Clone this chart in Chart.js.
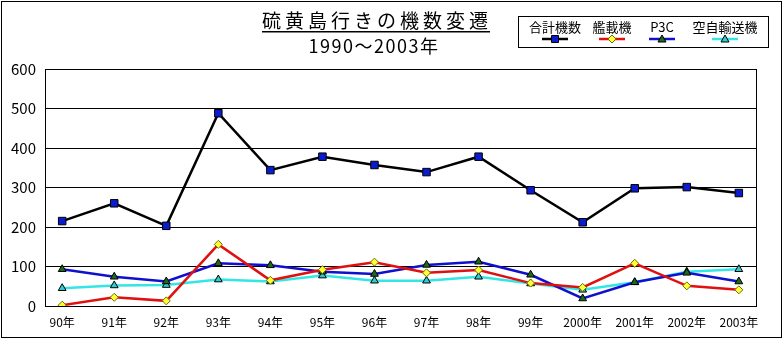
<!DOCTYPE html>
<html>
<head>
<meta charset="utf-8">
<script src="https://cdn.jsdelivr.net/npm/chart.js@4/dist/chart.umd.min.js"></script>
<style>
  html, body { margin: 0; padding: 0; background: #fff; }
  #wrap { width: 784px; height: 340px; }
</style>
</head>
<body>
<div id="wrap"><canvas id="c" width="784" height="340"></canvas></div>
<script>
// 年ごとのデータ
const years = ['90年', '91年', '92年', '93年', '94年', '95年', '96年', '97年', '98年', '99年', '2000年', '2001年', '2002年', '2003年'];
const totalCount = [215, 260, 203, 488, 344, 378, 357, 339, 378, 293, 212, 298, 301, 286];
const carrierCount = [2, 22, 13, 156, 65, 92, 111, 84, 91, 58, 47, 108, 51, 41];
const p3cCount = [93, 74, 62, 108, 103, 87, 81, 104, 112, 79, 19, 60, 84, 62];
const asdfCount = [45, 52, 53, 67, 62, 77, 64, 64, 74, 57, 41, 60, 87, 93];
const yTicks = [0, 100, 200, 300, 400, 500, 600];

const FONT = '"Noto Sans CJK JP", "Noto Sans", sans-serif';

function pts(arr) {
  return arr.map((v, i) => ({ x: i, y: v }));
}

// マーカー描画（凡例用）
function marker(ctx, style, x, y, fill, stroke) {
  ctx.save();
  ctx.fillStyle = fill;
  ctx.strokeStyle = stroke;
  ctx.lineWidth = 1;
  ctx.beginPath();
  if (style === 'rect') {
    ctx.rect(x - 3.5, y - 3.5, 7, 7);
  } else if (style === 'rectRot') {
    ctx.moveTo(x, y - 4); ctx.lineTo(x + 4, y); ctx.lineTo(x, y + 4); ctx.lineTo(x - 4, y); ctx.closePath();
  } else {
    ctx.moveTo(x, y - 4); ctx.lineTo(x + 4, y + 3); ctx.lineTo(x - 4, y + 3); ctx.closePath();
  }
  ctx.fill();
  ctx.stroke();
  ctx.restore();
}

const frame = {
  id: 'frame',
  beforeDraw(chart) {
    const ctx = chart.ctx;
    ctx.save();
    ctx.fillStyle = '#fff';
    ctx.fillRect(0, 0, chart.width, chart.height);
    ctx.strokeStyle = '#000';
    ctx.lineWidth = 1;
    ctx.strokeRect(1.5, 1.5, 780, 336);
    ctx.restore();
  },
  beforeDatasetsDraw(chart) {
    // プロットエリアの枠
    const a = chart.chartArea;
    const ctx = chart.ctx;
    ctx.save();
    ctx.strokeStyle = '#000';
    ctx.lineWidth = 1;
    ctx.strokeRect(Math.round(a.left) + 0.5, Math.round(a.top) + 0.5, Math.round(a.right - a.left), Math.round(a.bottom - a.top));
    ctx.restore();
  },
  afterDraw(chart) {
    const ctx = chart.ctx;
    ctx.save();
    // タイトル
    ctx.fillStyle = '#000';
    ctx.textAlign = 'center';
    ctx.textBaseline = 'alphabetic';
    ctx.font = '19px ' + FONT;
    ctx.letterSpacing = '4px';
    const title = '硫黄島行きの機数変遷';
    const tw = ctx.measureText(title).width;
    ctx.fillText(title, 377, 28);
    ctx.fillRect(377 - tw / 2, 31, tw - 2, 1.5);
    ctx.letterSpacing = '1.5px';
    ctx.font = '18px ' + FONT;
    ctx.fillText('1990～2003年', 374, 53);
    ctx.letterSpacing = '0px';

    // 凡例
    ctx.strokeStyle = '#000';
    ctx.lineWidth = 1;
    ctx.strokeRect(518.5, 16.5, 250, 31);
    const centers = [555, 612, 662, 725];
    ctx.font = '13px ' + FONT;
    ctx.textBaseline = 'middle';
    chart.data.datasets.forEach((ds, i) => {
      const cx = centers[i];
      ctx.fillStyle = '#000';
      ctx.fillText(ds.label, cx, 27);
      ctx.strokeStyle = ds.borderColor;
      ctx.lineWidth = 2.5;
      ctx.beginPath();
      ctx.moveTo(cx - 13, 39);
      ctx.lineTo(cx + 13, 39);
      ctx.stroke();
      marker(ctx, ds.pointStyle, cx, 39, ds.pointBackgroundColor, ds.pointBorderColor);
    });
    ctx.restore();
  }
};

const lineDefaults = {
  borderWidth: 2.5,
  tension: 0,
  pointBorderColor: '#000',
  pointBorderWidth: 1,
  pointHoverRadius: 5
};

new Chart(document.getElementById('c'), {
  type: 'line',
  data: {
    datasets: [{
      ...lineDefaults,
      label: '合計機数',
      data: pts(totalCount),
      borderColor: '#000000',
      pointStyle: 'rect',
      pointRadius: 5.3,
      pointBackgroundColor: '#0a1ccc'
    }, {
      ...lineDefaults,
      label: '艦載機',
      data: pts(carrierCount),
      borderColor: '#e01010',
      pointStyle: 'rectRot',
      pointRadius: 4,
      pointBorderColor: '#6b6b00',
      pointBackgroundColor: '#ffff33'
    }, {
      ...lineDefaults,
      label: 'P3C',
      data: pts(p3cCount),
      borderColor: '#1010cc',
      pointStyle: 'triangle',
      pointRadius: 4.5,
      pointBackgroundColor: '#1a6b1a'
    }, {
      ...lineDefaults,
      label: '空自輸送機',
      data: pts(asdfCount),
      borderColor: '#33e6e6',
      pointStyle: 'triangle',
      pointRadius: 4.5,
      pointBackgroundColor: '#33cccc'
    }]
  },
  options: {
    responsive: false,
    animation: false,
    layout: { padding: { top: 69, right: 28, bottom: 0, left: 0 } },
    plugins: {
      legend: { display: false },
      title: { display: false },
      tooltip: { enabled: false }
    },
    scales: {
      x: {
        type: 'linear',
        min: -0.33,
        max: 13.33,
        afterFit(s) { s.height = 34; },
        afterBuildTicks(s) { s.ticks = years.map((_, i) => ({ value: i })); },
        grid: { display: false, drawTicks: false },
        border: { display: true, color: '#000', width: 1 },
        ticks: {
          autoSkip: false,
          maxRotation: 0,
          padding: 9,
          color: '#000',
          font: { family: FONT, size: 12 },
          callback: v => years[v]
        }
      },
      y: {
        min: 0,
        max: 600,
        afterFit(s) { s.width = 45; },
        afterBuildTicks(s) { s.ticks = yTicks.map(v => ({ value: v })); },
        grid: { color: '#000', lineWidth: 1, drawTicks: false },
        border: { display: true, color: '#000', width: 1 },
        ticks: {
          padding: 9,
          color: '#000',
          font: { family: FONT, size: 15 }
        }
      }
    }
  },
  plugins: [frame]
});
</script>
</body>
</html>
